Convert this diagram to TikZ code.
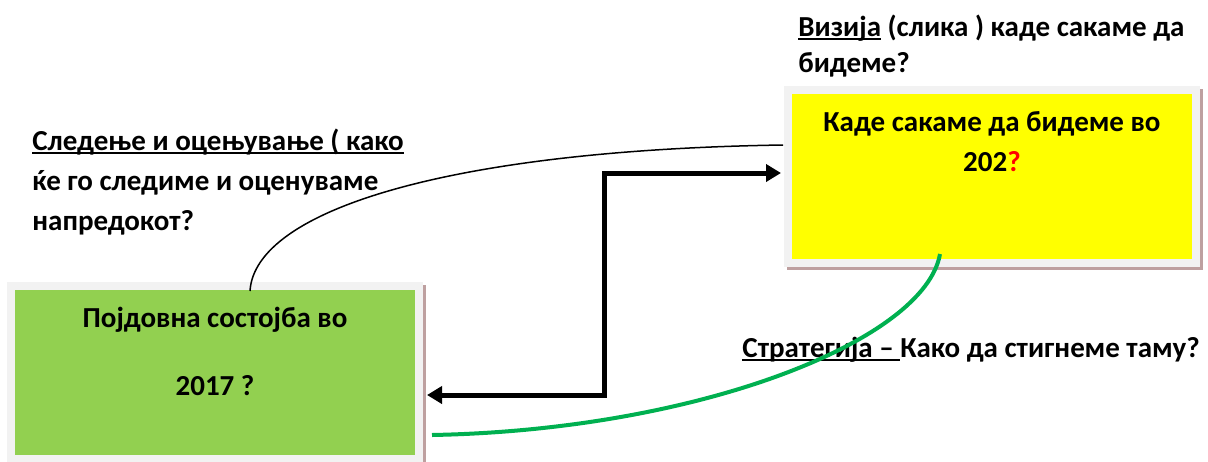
\documentclass[tikz,border=0pt]{standalone}
\usepackage{fontspec}
\setmainfont{Carlito}
\usetikzlibrary{arrows.meta,calc}
\definecolor{framegray}{HTML}{F2F2F2}
\definecolor{boxshade}{RGB}{190,160,160}
\definecolor{basegreen}{HTML}{92D050}
\definecolor{goalyellow}{HTML}{FFFF00}
\definecolor{stratgreen}{HTML}{00B050}
\newcommand{\uln}[1]{\setbox0\hbox{#1}\rlap{\rule[-1.6pt]{\wd0}{0.9pt}}\box0\relax}
\tikzset{
  framebox/.style={draw=framegray, line width=4pt, minimum width=204pt, minimum height=86.5pt, inner sep=0pt,
    preaction={draw=boxshade, fill=boxshade, transform canvas={xshift=1.5pt,yshift=-1.5pt}}},
  boxtext/.style={font=\fontsize{14.5}{20}\selectfont\bfseries, align=center, inner sep=0pt},
  lbl/.style={font=\fontsize{14.5}{20}\selectfont\bfseries, align=left, inner sep=0pt},
  bigtip/.style={line width=2.5pt, {Triangle[length=7.5pt,width=8.5pt]}-{Triangle[length=7.5pt,width=8.5pt]}}
}
\begin{document}
\begin{tikzpicture}[x=0.5pt,y=-0.5pt]
\useasboundingbox (0,0) rectangle (1208,461);
\node[framebox, fill=basegreen] (base) at (215,372.5) {};
\node[framebox, fill=goalyellow] (goal) at (992,176.5) {};
\node[boxtext] (basetext) at (215,351) {Појдовна состојба во\\[14pt]2017 ?};
\node[boxtext] (goaltext) at (992,142) {Каде сакаме да бидеме во\\202\textcolor{red}{?}};
\node[lbl, anchor=north west] (vision) at (798,15) {\uln{Визија} (слика ) каде сакаме да\\[-2pt]бидеме?};
\node[lbl, anchor=north west] (monitor) at (32,129) {\uln{Следење и оцењување ( како}\\ќе го следиме и оценуваме\\напредокот?};
\node[lbl, anchor=west] (strategy) at (742,350) {\uln{Стратегија – }Како да стигнеме таму?};
\coordinate (baseend) at ($(base.east)+(4,22.5)$);
\coordinate (goalend) at ($(goal.west)+(-3,-3.5)$);
\coordinate (elbow) at (604,0);
\draw[bigtip] (baseend) -- (baseend -| elbow) -- (goalend -| elbow) -- (goalend);
\draw[line width=0.75pt] ($(base.north)+(35,9)$) .. controls (255,210) and (450,150) .. ($(goal.west)+(-1,-31.5)$);
\draw[stratgreen, line width=2pt] ($(goal.south)+(-52,-13)$) .. controls (925,340) and (700,430) .. ($(base.east)+(9,62.5)$);
\end{tikzpicture}
\end{document}
